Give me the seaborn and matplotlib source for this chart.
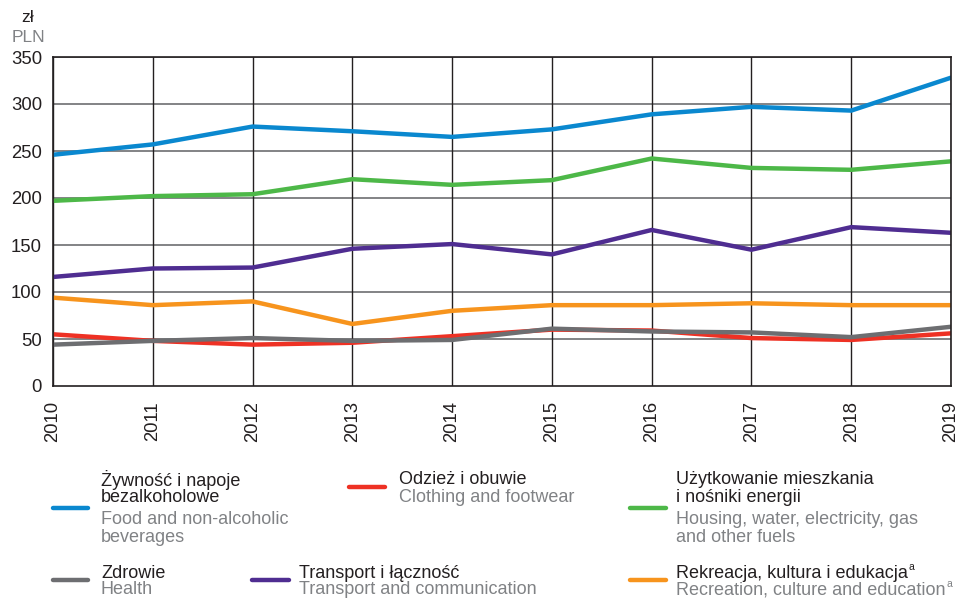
import matplotlib
matplotlib.use("Agg")
import matplotlib.pyplot as plt
import seaborn as sns
import pandas as pd
from matplotlib.lines import Line2D

years = [2010, 2011, 2012, 2013, 2014, 2015, 2016, 2017, 2018, 2019]
food = [246, 257, 276, 271, 265, 273, 289, 297, 293, 328]
clothing = [55, 48, 44, 46, 53, 60, 59, 51, 49, 56]
housing = [197, 202, 204, 220, 214, 219, 242, 232, 230, 239]
health = [44, 48, 51, 48, 49, 61, 58, 57, 52, 63]
transport = [116, 125, 126, 146, 151, 140, 166, 145, 169, 163]
recreation = [94, 86, 90, 66, 80, 86, 86, 88, 86, 86]

series_names = ["food", "clothing", "housing", "health", "transport", "recreation"]
series_values = [food, clothing, housing, health, transport, recreation]
colors = {"food": "#0A88CF", "clothing": "#EE3124", "housing": "#4DB848",
          "health": "#6D6E71", "transport": "#4F2D91", "recreation": "#F7941D"}
draw_order = ["recreation", "transport", "housing", "food", "clothing", "health"]

rows = []
for n, vals in zip(series_names, series_values):
    for y, v in zip(years, vals):
        rows.append({"year": y, "value": v, "series": n})
df = pd.DataFrame(rows)

sns.set_theme(style="white")
plt.rcParams["font.family"] = ["Liberation Sans", "DejaVu Sans"]

BLACK = "#231F20"
GRAY = "#808285"

fig = plt.figure(figsize=(9.61, 5.99), dpi=100)
W, H = 961, 599
ax = fig.add_axes([53 / W, (H - 386) / H, 898 / W, 329 / H])

for n in draw_order:
    sns.lineplot(data=df[df["series"] == n], x="year", y="value", color=colors[n],
                 linewidth=3.2, ax=ax, legend=False, solid_joinstyle="miter")

ax.set_xlim(2010, 2019)
ax.set_ylim(0, 350)
ax.set_xticks(years)
ax.set_xticklabels([str(y) for y in years], rotation=90, fontsize=13.3, color=BLACK)
ax.set_yticks(range(0, 351, 50))
ax.set_yticklabels([str(v) for v in range(0, 351, 50)], fontsize=13.3, color=BLACK)
ax.tick_params(axis="both", length=0)
ax.tick_params(axis="y", pad=8)
ax.tick_params(axis="x", pad=11)
ax.set_xlabel("")
ax.set_ylabel("")
for y in range(50, 351, 50):
    ax.axhline(y, color="#6D6E71", linewidth=1.2, zorder=0)
for x in years:
    ax.axvline(x, color=BLACK, linewidth=1.0, zorder=0)
for s in ax.spines.values():
    s.set_visible(True)
    s.set_color(BLACK)
    s.set_linewidth(1.2)
ax.grid(False)

fig.text(28 / W, 1 - 18 / H, "zł", ha="center", va="center", fontsize=12.5, color=BLACK)
fig.text(28 / W, 1 - 38 / H, "PLN", ha="center", va="center", fontsize=12.5, color=GRAY)

fs = 13
renderer = fig.canvas.get_renderer()


def legend_item(x0, x1, ly, tx, lines, color):
    fig.add_artist(Line2D([x0 / W, x1 / W], [1 - ly / H, 1 - ly / H], color=color,
                          linewidth=3.2, transform=fig.transFigure))
    for txt, yy, col, sup in lines:
        t = fig.text(tx / W, 1 - yy / H, txt, ha="left", va="center", fontsize=fs, color=col)
        if sup:
            bb = t.get_window_extent(renderer=renderer)
            fig.text((bb.x1 + 1) / W, 1 - (yy - 6) / H, "a", ha="left", va="center",
                     fontsize=7.5, color=col)


legend_item(53, 88, 508, 101, [("Żywność i napoje", 480, BLACK, False),
                               ("bezalkoholowe", 498, BLACK, False),
                               ("Food and non-alcoholic", 519, GRAY, False),
                               ("beverages", 537, GRAY, False)], colors["food"])
legend_item(349, 385, 487, 399, [("Odzież i obuwie", 480, BLACK, False),
                                 ("Clothing and footwear", 498, GRAY, False)], colors["clothing"])
legend_item(630, 666, 508, 676, [("Użytkowanie mieszkania", 480, BLACK, False),
                                 ("i nośniki energii", 498, BLACK, False),
                                 ("Housing, water, electricity, gas", 519, GRAY, False),
                                 ("and other fuels", 537, GRAY, False)], colors["housing"])
legend_item(53, 88, 580, 101, [("Zdrowie", 573, BLACK, False),
                               ("Health", 590, GRAY, False)], colors["health"])
legend_item(252, 289, 580, 299, [("Transport i łączność", 573, BLACK, False),
                                 ("Transport and communication", 590, GRAY, False)],
            colors["transport"])
legend_item(630, 666, 580, 676, [("Rekreacja, kultura i edukacja", 573, BLACK, True),
                                 ("Recreation, culture and education", 590, GRAY, True)],
            colors["recreation"])

fig.savefig("out.png", dpi=100)
